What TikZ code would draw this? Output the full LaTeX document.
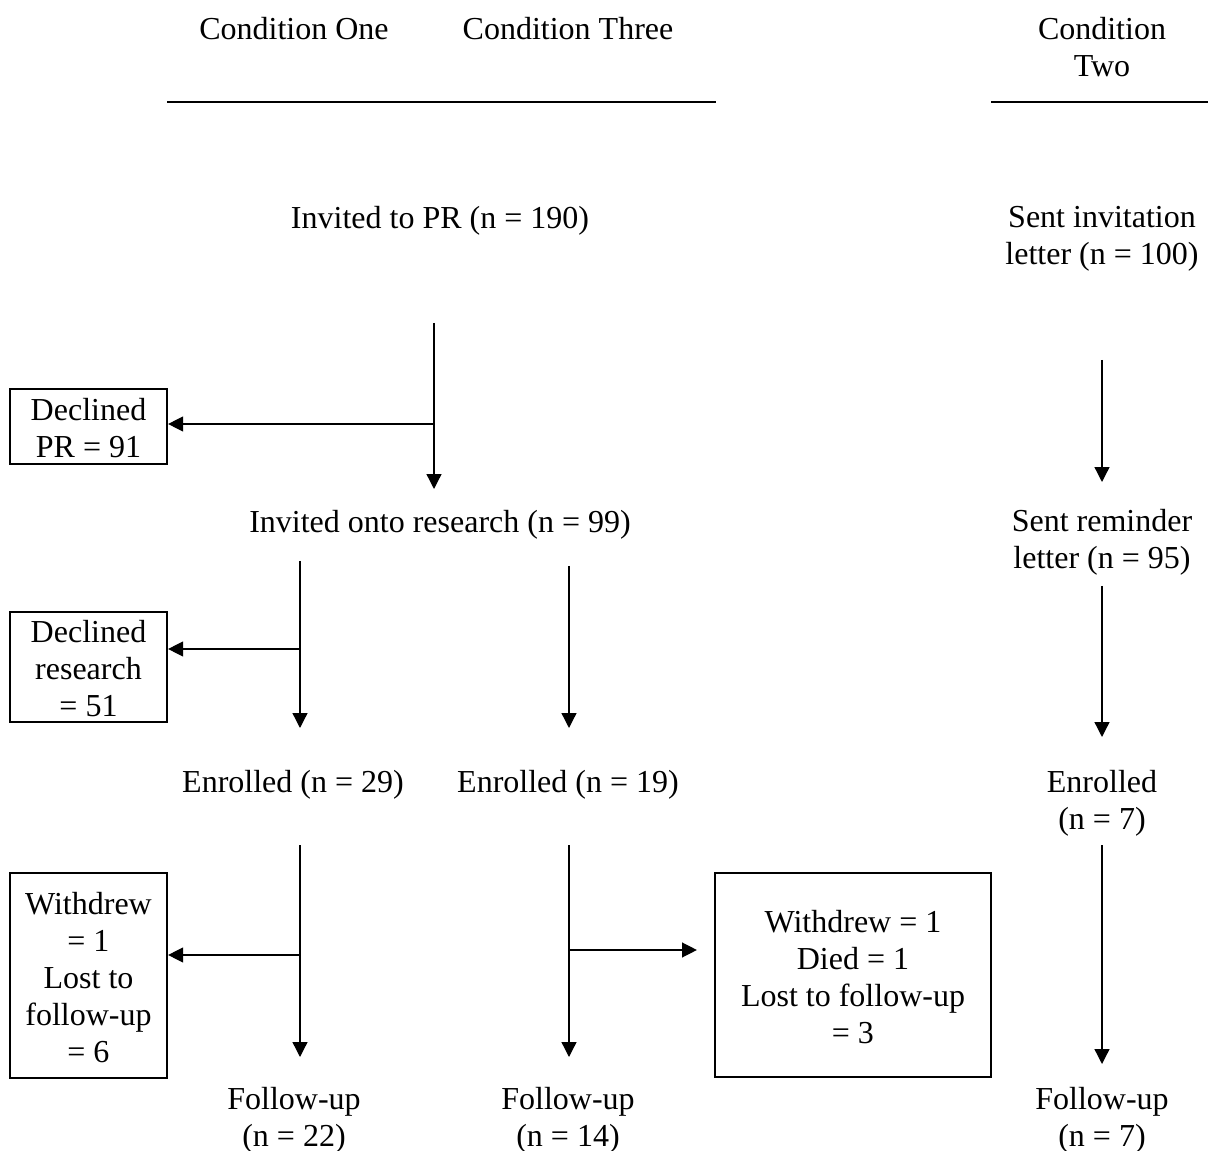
\documentclass[tikz,border=0pt]{standalone}
\usepackage{fontspec}
\setmainfont{Liberation Serif}
\usetikzlibrary{arrows.meta,calc}
% a strut that lowers the first line of a boxed text slightly
\newcommand{\toplift}{\rule{0pt}{9.8pt}}
\begin{document}
\begin{tikzpicture}[x=0.375pt,y=-0.375pt,
  lbl/.style={align=center,inner sep=0pt,font=\fontsize{12pt}{13.9pt}\selectfont},
  boxed/.style={lbl,draw,line width=0.8pt},
  flow/.style={line width=0.5pt,-{Triangle[length=5.6pt,width=5.6pt]}},
  rule/.style={line width=0.8pt}]
\useasboundingbox (0,0) rectangle (1208,1151);

% column headings
\node[lbl] (h1) at (294,29) {Condition One};
\node[lbl] (h3) at (568,29) {Condition Three};
\node[lbl] (h2) at (1102,47) {Condition\\Two};
\draw[rule] (167,102) -- (716,102);
\draw[rule] (991,102) -- (1208,102);

% conditions one and three
\node[lbl] (inv) at (440,221) {Invited to PR (n = 190)};
\node[boxed,minimum width=58.9pt,minimum height=28.1pt] (dpr) at (88.5,426.5) {\toplift Declined\\PR = 91};
\node[lbl] (res) at (440,525) {Invited onto research (n = 99)};
\node[boxed,minimum width=58.9pt,minimum height=41.25pt] (dres) at (88.5,667) {\toplift Declined\\research\\= 51};
\node[lbl] (en1) at (293,785) {Enrolled (n = 29)};
\node[lbl] (en3) at (568,785) {Enrolled (n = 19)};
\node[boxed,minimum width=58.9pt,minimum height=76.9pt] (wd1) at (88.5,975.5) {\toplift Withdrew\\= 1\\Lost to\\follow-up\\= 6};
\node[boxed,minimum width=103.5pt,minimum height=76.5pt] (wd3) at (853,975) {\toplift Withdrew = 1\\Died = 1\\Lost to follow-up\\= 3};
\node[lbl] (fu1) at (294,1120) {Follow-up\\(n = 22)};
\node[lbl] (fu3) at (568,1120) {Follow-up\\(n = 14)};

% condition two
\node[lbl] (sent) at (1102,239) {Sent invitation\\letter (n = 100)};
\node[lbl] (rem) at (1102,542) {Sent reminder\\letter (n = 95)};
\node[lbl] (en2) at (1102,803) {Enrolled\\(n = 7)};
\node[lbl] (fu2) at (1102,1120) {Follow-up\\(n = 7)};

% connectors
\coordinate (a1s) at (434,323); \coordinate (a1e) at (434,489);
\coordinate (j1) at (434,424);
\draw[flow] (a1s) -- (a1e);
\draw[flow] (j1) -- (j1 -| dpr.east);

\coordinate (a2s) at (300,561); \coordinate (a2e) at (300,728);
\coordinate (j2) at (300,649);
\draw[flow] (a2s) -- (a2e);
\draw[flow] (j2) -- (j2 -| dres.east);

\coordinate (a3s) at (569,566); \coordinate (a3e) at (569,728);
\draw[flow] (a3s) -- (a3e);

\coordinate (a4s) at (300,845); \coordinate (a4e) at (300,1057);
\coordinate (j4) at (300,955);
\draw[flow] (a4s) -- (a4e);
\draw[flow] (j4) -- (j4 -| wd1.east);

\coordinate (a5s) at (569,845); \coordinate (a5e) at (569,1057);
\coordinate (j5) at (569,950);
\draw[flow] (a5s) -- (a5e);
\draw[flow] (j5) -- ($(j5 -| wd3.west)+(-17,0)$);

\coordinate (b1s) at (1102,360); \coordinate (b1e) at (1102,482);
\draw[flow] (b1s) -- (b1e);
\coordinate (b2s) at (1102,586); \coordinate (b2e) at (1102,737);
\draw[flow] (b2s) -- (b2e);
\coordinate (b3s) at (1102,845); \coordinate (b3e) at (1102,1064);
\draw[flow] (b3s) -- (b3e);
\end{tikzpicture}
\end{document}
